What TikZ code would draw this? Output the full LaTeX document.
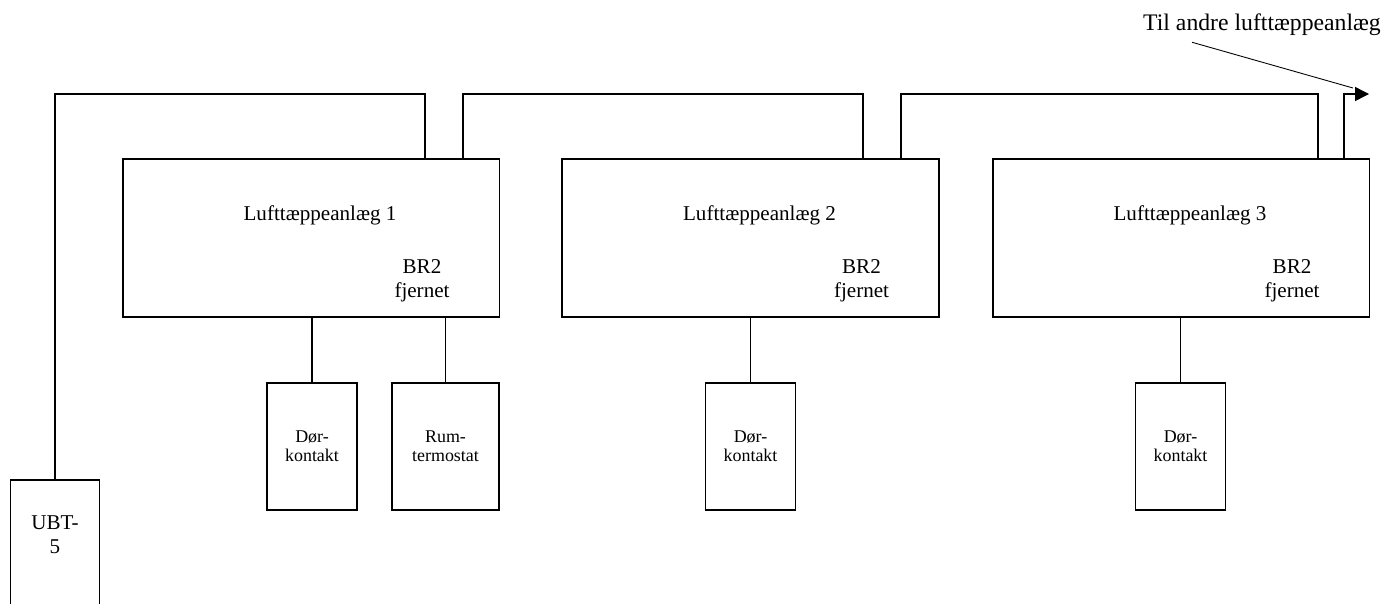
\documentclass[tikz,border=0pt]{standalone}
\usepackage{fontspec}
\setmainfont{Liberation Serif}
\usetikzlibrary{arrows.meta,calc,positioning}
\tikzset{
  unit/.style={draw,line width=1.1pt,minimum width=7.54cm,minimum height=3.16cm,inner sep=0pt},
  sensor/.style={draw,line width=1.1pt,minimum height=2.54cm,inner sep=0pt,align=center,
    font=\fontsize{10.2}{11}\selectfont},
  big/.style={font=\fontsize{12}{13.8}\selectfont,align=center,inner sep=0pt},
  wire/.style={line width=0.8pt},
}
\begin{document}
\begin{tikzpicture}[x=0.02cm,y=-0.02cm]
  \useasboundingbox (0,0) rectangle (1398,603);
  \clip (0,0) rectangle (1398,603);
  % 风幕机
  \node[unit] (anlaeg1) at (311,238) {};
  \node[unit] (anlaeg2) at (750.5,238) {};
  \node[unit] (anlaeg3) at (1181,238) {};
  \foreach \i in {1,2,3} {
    \node[big] (navn\i) at ($(anlaeg\i.center)+(9,-23)$) {Lufttæppeanlæg \i};
    \node[big] (br\i) at ($(anlaeg\i.center)+(111,43)$) {BR2\\fjernet};
  }
  % 传感器
  \node[sensor,minimum width=1.8cm] (dor1) at (312,446.5) {Dør-\\kontakt};
  \node[sensor,minimum width=2.14cm] (rum1) at (445.5,446.5) {Rum-\\termostat};
  \node[sensor,minimum width=1.8cm] (dor2) at (750.5,446.5) {Dør-\\kontakt};
  \node[sensor,minimum width=1.8cm] (dor3) at (1180.5,446.5) {Dør-\\kontakt};
  \foreach \s/\u in {dor1/1,rum1/1,dor2/2,dor3/3}
    \draw[wire] (\s.north) -- (\s.north |- anlaeg\u.south);
  % UBT-5
  \node[sensor,minimum width=1.78cm,minimum height=3cm,anchor=north] (ubt) at (55,479) {};
  \node[big] (ubtnavn) at (55,535) {UBT-\\5};
  % 总线
  \coordinate (k1) at (425,94);
  \coordinate (k2) at (463,94);
  \coordinate (k3) at (863,94);
  \coordinate (k4) at (901,94);
  \coordinate (k5) at (1318,94);
  \coordinate (k6) at (1344,94);
  \coordinate (pil) at (1369,94);
  \draw[wire] (ubt.north) |- (k1) -- (k1 |- anlaeg1.north);
  \draw[wire] (k2 |- anlaeg1.north) -- (k2) -- (k3) -- (k3 |- anlaeg2.north);
  \draw[wire] (k4 |- anlaeg2.north) -- (k4) -- (k5) -- (k5 |- anlaeg3.north);
  \draw[wire,-{Triangle[length=0.28cm,width=0.28cm]}] (k6 |- anlaeg3.north) -- (k6) -- (pil);
  % 标注
  \node[font=\fontsize{13.5}{15}\selectfont,inner sep=0pt] (tekst) at (1262,25) {Til andre lufttæppeanlæg};
  \coordinate (spids) at (1353,88);
  \draw[line width=0.5pt] ([xshift=-1.4cm,yshift=-0.12cm]tekst.south) -- (spids);
\end{tikzpicture}
\end{document}
